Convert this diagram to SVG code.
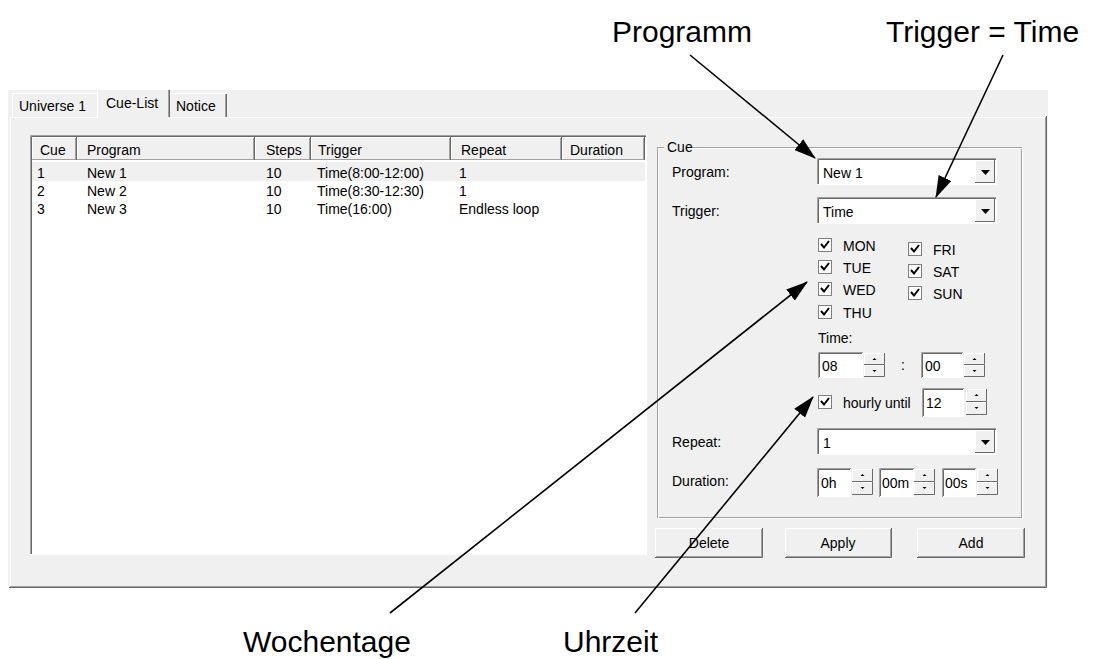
<svg xmlns="http://www.w3.org/2000/svg" width="1104" height="659" viewBox="0 0 1104 659">
<style>
.ui{font-family:"Liberation Sans",Arial,sans-serif;font-size:14px;fill:#000}
.ann{font-family:"Liberation Sans",Arial,sans-serif;font-size:30px;fill:#000}
.face{fill:#f0f0f0}
.wh{fill:#fff}
.hl{stroke:#fff;fill:none}
.sh{stroke:#a0a0a0;fill:none}
.dk{stroke:#696969;fill:none}
.conn{stroke:#000;stroke-width:1.6;fill:none}
.tri{fill:#000}
</style>
<defs>
<marker id="ah" viewBox="0 0 22 14" refX="21" refY="7" markerWidth="22" markerHeight="14" markerUnits="userSpaceOnUse" orient="auto"><path d="M0,0 L22,7 L0,14 z" fill="#000"/></marker>
</defs>

<!-- window -->
<g id="window">
<rect x="0" y="0" width="1104" height="659" fill="#fff"/>
<rect x="8" y="90" width="1040" height="498" class="face"/>
<path d="M10.5,587 V117.5 H1045" class="hl"/>
<path d="M10,586.5 H1045.5 V117" class="sh"/>
<path d="M9,587.5 H1046.5 V116" class="dk"/>
</g>

<!-- tabs -->
<g id="tab-universe">
<path d="M12.5,117 V93.5 H97" class="hl"/>
<text x="19" y="111" class="ui">Universe 1</text>
</g>
<g id="tab-notice">
<path d="M170,93.5 H225.5 V117" class="hl"/>
<path d="M225.5,94 V117" class="sh"/>
<path d="M226.5,94 V117" class="dk"/>
<text x="176" y="111" class="ui">Notice</text>
</g>
<g id="tab-cuelist">
<rect x="97" y="89" width="73" height="29.5" class="face"/>
<path d="M97.5,118 V89.5 H168" class="hl"/>
<path d="M168.5,90 V117" class="sh"/>
<path d="M169.5,90 V117" class="dk"/>
<text x="106" y="108" class="ui">Cue-List</text>
</g>

<!-- list view -->
<g id="cue-list">
<rect x="30" y="135" width="617" height="420" class="wh"/>
<path d="M30.5,555 V135.5 H647" class="sh"/>
<path d="M31.5,554 V136.5 H646" class="dk"/>
<path d="M30,554.5 H646.5 V135" class="hl"/>
<rect x="32" y="137" width="613" height="23" class="face"/>
<g id="hdr-cells">
<path d="M32.5,159 V137.5 H76.5 M77.5,159 V137.5 H254.5 M255.5,159 V137.5 H310.5 M311.5,159 V137.5 H450.5 M451.5,159 V137.5 H561.5 M562.5,159 V137.5 H644.5" class="hl"/>
<path d="M32,159.5 H645 M75.5,138 V159 M253.5,138 V159 M309.5,138 V159 M449.5,138 V159 M560.5,138 V159 M643.5,138 V159" class="sh"/>
<path d="M76.5,137 V160 M254.5,137 V160 M310.5,137 V160 M450.5,137 V160 M561.5,137 V160 M644.5,137 V160" class="dk"/>
</g>
<text x="40" y="155" class="ui">Cue</text>
<text x="87" y="155" class="ui">Program</text>
<text x="266" y="155" class="ui">Steps</text>
<text x="318" y="155" class="ui">Trigger</text>
<text x="461" y="155" class="ui">Repeat</text>
<text x="570" y="155" class="ui">Duration</text>
<rect x="32" y="162" width="613" height="19" fill="#f0f0f0"/>
<g id="row1">
<text x="37" y="178" class="ui">1</text><text x="87" y="178" class="ui">New 1</text><text x="266" y="178" class="ui">10</text><text x="317" y="178" class="ui">Time(8:00-12:00)</text><text x="459" y="178" class="ui">1</text>
</g>
<g id="row2">
<text x="37" y="196" class="ui">2</text><text x="87" y="196" class="ui">New 2</text><text x="266" y="196" class="ui">10</text><text x="317" y="196" class="ui">Time(8:30-12:30)</text><text x="459" y="196" class="ui">1</text>
</g>
<g id="row3">
<text x="37" y="214" class="ui">3</text><text x="87" y="214" class="ui">New 3</text><text x="266" y="214" class="ui">10</text><text x="317" y="214" class="ui">Time(16:00)</text><text x="459" y="214" class="ui">Endless loop</text>
</g>
</g>

<!-- Cue group box -->
<g id="cue-group">
<rect x="657.5" y="147.5" width="364" height="370" class="sh"/>
<rect x="658.5" y="148.5" width="364" height="370" class="hl"/>
<rect x="664" y="139" width="26" height="16" class="face"/>
<text x="667" y="152" class="ui">Cue</text>
<text x="672" y="177" class="ui">Program:</text>
<text x="672" y="216" class="ui">Trigger:</text>
<text x="672" y="447" class="ui">Repeat:</text>
<text x="672" y="486" class="ui">Duration:</text>
</g>

<!-- combos -->
<g id="combo-program">
<rect x="817" y="158" width="180" height="27" class="wh"/>
<path d="M817.5,185 V158.5 H997" class="sh"/><path d="M818.5,184 V159.5 H996" class="dk"/><path d="M817,184.5 H996.5 V158" class="hl"/>
<rect x="975" y="160" width="20" height="23" class="face"/>
<path d="M975.5,183 V160.5 H995" class="hl"/><path d="M975,182.5 H994.5 V160" class="dk"/>
<path d="M981,170 H990 L985.5,175 z" class="tri"/>
<text x="823" y="178" class="ui">New 1</text>
</g>
<g id="combo-trigger">
<rect x="817" y="197" width="180" height="27" class="wh"/>
<path d="M817.5,224 V197.5 H997" class="sh"/><path d="M818.5,223 V198.5 H996" class="dk"/><path d="M817,223.5 H996.5 V197" class="hl"/>
<rect x="975" y="199" width="20" height="23" class="face"/>
<path d="M975.5,222 V199.5 H995" class="hl"/><path d="M975,221.5 H994.5 V199" class="dk"/>
<path d="M981,209 H990 L985.5,214 z" class="tri"/>
<text x="823" y="217" class="ui">Time</text>
</g>

<!-- day checkboxes -->
<g id="days">
<g id="cb-mon"><rect x="818.5" y="238.5" width="13" height="13" fill="#fff" stroke="#808080"/><path d="M821,244 L824,247.5 L829,241" stroke="#000" stroke-width="2" fill="none"/><text x="843" y="251" class="ui">MON</text></g>
<g id="cb-tue"><rect x="818.5" y="260.5" width="13" height="13" fill="#fff" stroke="#808080"/><path d="M821,266 L824,269.5 L829,263" stroke="#000" stroke-width="2" fill="none"/><text x="843" y="273" class="ui">TUE</text></g>
<g id="cb-wed"><rect x="818.5" y="282.5" width="13" height="13" fill="#fff" stroke="#808080"/><path d="M821,288 L824,291.5 L829,285" stroke="#000" stroke-width="2" fill="none"/><text x="843" y="295" class="ui">WED</text></g>
<g id="cb-thu"><rect x="818.5" y="305.5" width="13" height="13" fill="#fff" stroke="#808080"/><path d="M821,311 L824,314.5 L829,308" stroke="#000" stroke-width="2" fill="none"/><text x="843" y="318" class="ui">THU</text></g>
<g id="cb-fri"><rect x="908.5" y="242.5" width="13" height="13" fill="#fff" stroke="#808080"/><path d="M911,248 L914,251.5 L919,245" stroke="#000" stroke-width="2" fill="none"/><text x="933" y="255" class="ui">FRI</text></g>
<g id="cb-sat"><rect x="908.5" y="264.5" width="13" height="13" fill="#fff" stroke="#808080"/><path d="M911,270 L914,273.5 L919,267" stroke="#000" stroke-width="2" fill="none"/><text x="933" y="277" class="ui">SAT</text></g>
<g id="cb-sun"><rect x="908.5" y="286.5" width="13" height="13" fill="#fff" stroke="#808080"/><path d="M911,292 L914,295.5 L919,289" stroke="#000" stroke-width="2" fill="none"/><text x="933" y="299" class="ui">SUN</text></g>
</g>

<!-- time -->
<g id="time">
<text x="818" y="343" class="ui">Time:</text>
<rect x="818" y="352" width="45" height="26" class="wh"/>
<path d="M818.5,378 V352.5 H863" class="sh"/><path d="M819.5,377 V353.5 H862" class="dk"/>
<text x="822" y="371" class="ui">08</text>
<rect x="864" y="353" width="21" height="12" class="face"/><rect x="864" y="365" width="21" height="12" class="face"/>
<path d="M864.5,364 V353.5 H884 M864.5,376 V365.5 H884" class="hl"/><path d="M864,364.5 H884.5 V353 M864,376.5 H884.5 V365" class="dk"/>
<path d="M872.5,360 H876.5 L874.5,358 z M872.5,370 H876.5 L874.5,372 z" class="tri"/>
<text x="901" y="370" class="ui">:</text>
<rect x="921" y="352" width="42" height="26" class="wh"/>
<path d="M921.5,378 V352.5 H963" class="sh"/><path d="M922.5,377 V353.5 H962" class="dk"/>
<text x="925" y="371" class="ui">00</text>
<rect x="964" y="353" width="21" height="12" class="face"/><rect x="964" y="365" width="21" height="12" class="face"/>
<path d="M964.5,364 V353.5 H984 M964.5,376 V365.5 H984" class="hl"/><path d="M964,364.5 H984.5 V353 M964,376.5 H984.5 V365" class="dk"/>
<path d="M972.5,360 H976.5 L974.5,358 z M972.5,370 H976.5 L974.5,372 z" class="tri"/>
</g>

<!-- hourly -->
<g id="hourly">
<rect x="818.5" y="395.5" width="13" height="13" fill="#fff" stroke="#808080"/><path d="M821,401 L824,404.5 L829,398" stroke="#000" stroke-width="2" fill="none"/>
<text x="843" y="408" class="ui">hourly until</text>
<rect x="922" y="388" width="42" height="29" class="wh"/>
<path d="M922.5,417 V388.5 H964" class="sh"/><path d="M923.5,416 V389.5 H963" class="dk"/>
<text x="926" y="408" class="ui">12</text>
<rect x="966" y="389" width="21" height="13" class="face"/><rect x="966" y="402" width="21" height="13" class="face"/>
<path d="M966.5,401 V389.5 H986 M966.5,414 V402.5 H986" class="hl"/><path d="M966,401.5 H986.5 V389 M966,414.5 H986.5 V402" class="dk"/>
<path d="M974.5,396 H978.5 L976.5,394 z M974.5,407 H978.5 L976.5,409 z" class="tri"/>
</g>

<g id="combo-repeat">
<rect x="817" y="428" width="180" height="27" class="wh"/>
<path d="M817.5,455 V428.5 H997" class="sh"/><path d="M818.5,454 V429.5 H996" class="dk"/><path d="M817,454.5 H996.5 V428" class="hl"/>
<rect x="975" y="430" width="20" height="23" class="face"/>
<path d="M975.5,453 V430.5 H995" class="hl"/><path d="M975,452.5 H994.5 V430" class="dk"/>
<path d="M981,440 H990 L985.5,445 z" class="tri"/>
<text x="823" y="448" class="ui">1</text>
</g>

<!-- duration -->
<g id="duration">
<rect x="817" y="468" width="34" height="29" class="wh"/>
<path d="M817.5,497 V468.5 H851" class="sh"/><path d="M818.5,496 V469.5 H850" class="dk"/>
<text x="821" y="488" class="ui">0h</text>
<rect x="852" y="469" width="21" height="13" class="face"/><rect x="852" y="482" width="21" height="13" class="face"/>
<path d="M852.5,481 V469.5 H872 M852.5,494 V482.5 H872" class="hl"/><path d="M852,481.5 H872.5 V469 M852,494.5 H872.5 V482" class="dk"/>
<path d="M860.5,476 H864.5 L862.5,474 z M860.5,487 H864.5 L862.5,489 z" class="tri"/>
<rect x="879" y="468" width="35" height="29" class="wh"/>
<path d="M879.5,497 V468.5 H914" class="sh"/><path d="M880.5,496 V469.5 H913" class="dk"/>
<text x="882" y="488" class="ui">00m</text>
<rect x="914" y="469" width="21" height="13" class="face"/><rect x="914" y="482" width="21" height="13" class="face"/>
<path d="M914.5,481 V469.5 H934 M914.5,494 V482.5 H934" class="hl"/><path d="M914,481.5 H934.5 V469 M914,494.5 H934.5 V482" class="dk"/>
<path d="M922.5,476 H926.5 L924.5,474 z M922.5,487 H926.5 L924.5,489 z" class="tri"/>
<rect x="942" y="468" width="34" height="29" class="wh"/>
<path d="M942.5,497 V468.5 H976" class="sh"/><path d="M943.5,496 V469.5 H975" class="dk"/>
<text x="945" y="488" class="ui">00s</text>
<rect x="977" y="469" width="21" height="13" class="face"/><rect x="977" y="482" width="21" height="13" class="face"/>
<path d="M977.5,481 V469.5 H997 M977.5,494 V482.5 H997" class="hl"/><path d="M977,481.5 H997.5 V469 M977,494.5 H997.5 V482" class="dk"/>
<path d="M985.5,476 H989.5 L987.5,474 z M985.5,487 H989.5 L987.5,489 z" class="tri"/>
</g>

<!-- buttons -->
<g id="btn-delete">
<rect x="655" y="528" width="108" height="30" class="face"/>
<path d="M655.5,557 V528.5 H762" class="hl"/><path d="M656,556.5 H761.5 V529" class="sh"/><path d="M655,557.5 H762.5 V528" class="dk"/>
<text x="709" y="548" class="ui" text-anchor="middle">Delete</text>
</g>
<g id="btn-apply">
<rect x="785" y="528" width="107" height="30" class="face"/>
<path d="M785.5,557 V528.5 H891" class="hl"/><path d="M786,556.5 H890.5 V529" class="sh"/><path d="M785,557.5 H891.5 V528" class="dk"/>
<text x="838" y="548" class="ui" text-anchor="middle">Apply</text>
</g>
<g id="btn-add">
<rect x="917" y="528" width="108" height="30" class="face"/>
<path d="M917.5,557 V528.5 H1024" class="hl"/><path d="M918,556.5 H1023.5 V529" class="sh"/><path d="M917,557.5 H1024.5 V528" class="dk"/>
<text x="971" y="548" class="ui" text-anchor="middle">Add</text>
</g>

<!-- annotations -->
<g id="label-programm"><text x="612" y="42" class="ann">Programm</text></g>
<g id="label-trigger"><text x="886" y="42" class="ann">Trigger = Time</text></g>
<g id="label-wochentage"><text x="243" y="652" class="ann">Wochentage</text></g>
<g id="label-uhrzeit"><text x="563" y="652" class="ann">Uhrzeit</text></g>

<g id="connectors">
<line x1="690" y1="55" x2="815" y2="158" class="conn" marker-end="url(#ah)"/>
<line x1="1003" y1="55" x2="936" y2="197" class="conn" marker-end="url(#ah)"/>
<line x1="390" y1="613" x2="807" y2="282" class="conn" marker-end="url(#ah)"/>
<line x1="635" y1="613" x2="813" y2="397" class="conn" marker-end="url(#ah)"/>
</g>
</svg>
